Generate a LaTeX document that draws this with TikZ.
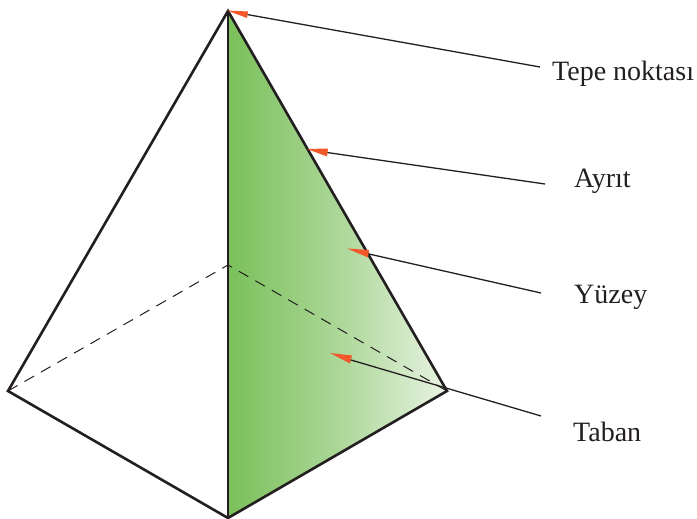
\documentclass[tikz,border=0pt]{standalone}
\usepackage{fontspec}
\setmainfont{Liberation Serif}
\definecolor{facegreen}{RGB}{122,192,90}
\definecolor{facelight}{RGB}{232,243,226}
\definecolor{tip}{RGB}{243,88,42}
\definecolor{ink}{RGB}{35,31,32}
\tikzset{
  edgeline/.style={draw=ink,line width=2.6pt,line join=miter},
  hidden/.style={draw=ink,line width=1pt,dash pattern=on 11pt off 8pt},
  leader/.style={draw=ink,line width=1.3pt},
  tiphead/.style={fill=tip,draw=none},
  lbl/.style={anchor=base west,inner sep=0pt,font=\fontsize{28pt}{30pt}\selectfont,text=ink}
}
\begin{document}
\begin{tikzpicture}[x=1pt,y=-1pt]
\useasboundingbox (0,0) rectangle (697,519);
\coordinate (A) at (228,11);
\coordinate (R) at (447,391);
\coordinate (B) at (228,518);
\coordinate (L) at (8,391);
\coordinate (K) at (228,265);
% shaded face
\path[left color=facegreen,right color=facelight,middle color=facegreen!55!facelight,shading angle=90] (A) -- (R) -- (B) -- cycle;
\path[hidden] (L) -- (K) -- (R);
\draw[edgeline] (A) -- (L) -- (B) -- (R) -- cycle;
\draw[edgeline] (A) -- (B);
% labels
\node[lbl] (t1) at (552,81) {Tepe noktası};
\node[lbl] (t2) at (574,187) {Ayrıt};
\node[lbl] (t3) at (574,303) {Yüzey};
\node[lbl] (t4) at (573,441) {Taban};
% leader ends
\coordinate (e1) at (540,67);
\coordinate (e2) at (545,184);
\coordinate (e3) at (541,293);
\coordinate (e4) at (541,416);
\coordinate (h1) at (247,14.5);
\coordinate (h2) at (327,152.5);
\coordinate (h3) at (369,254);
\coordinate (h4) at (351,360);
\draw[leader] (e1) -- (h1);
\draw[leader] (e2) -- (h2);
\draw[leader] (e3) -- (h3);
\draw[leader] (e4) -- (h4);
\fill[tiphead] (227,10.5) -- (248,11.5) -- (247,18) -- cycle;
\fill[tiphead] (307,149) -- (328,148.5) -- (327,156.5) -- cycle;
\fill[tiphead] (347,248.5) -- (369,250) -- (368,257.5) -- cycle;
\fill[tiphead] (330,353) -- (352,355.5) -- (350,363.5) -- cycle;
\end{tikzpicture}
\end{document}
